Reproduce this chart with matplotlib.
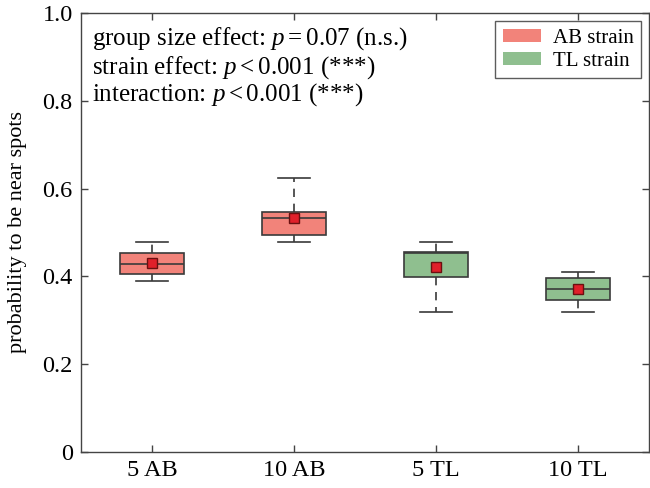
import matplotlib
matplotlib.use("Agg")
import matplotlib.pyplot as plt
from matplotlib.patches import Patch

plt.rcParams['font.family'] = ['Liberation Serif', 'DejaVu Serif']
plt.rcParams['mathtext.fontset'] = 'custom'
plt.rcParams['mathtext.rm'] = 'Liberation Serif'
plt.rcParams['mathtext.it'] = 'Liberation Serif:italic'

categories = ['5 AB', '10 AB', '5 TL', '10 TL']
strain = ['AB', 'AB', 'TL', 'TL']
whislo = [0.389, 0.479, 0.320, 0.320]
q1 = [0.406, 0.494, 0.399, 0.347]
med = [0.428, 0.532, 0.453, 0.371]
q3 = [0.454, 0.547, 0.456, 0.396]
whishi = [0.479, 0.625, 0.479, 0.411]
means = [0.431, 0.532, 0.422, 0.371]

annot = [r"group size effect: $p = 0.07$ (n.s.)",
         r"strain effect: $p < 0.001$ (***)",
         r"interaction: $p < 0.001$ (***)"]
legend_labels = ['AB strain', 'TL strain']
colors = {'AB': '#f2837a', 'TL': '#8fbf8f'}
edge = '#3a3a3a'

fig = plt.figure(figsize=(6.5, 4.88), dpi=100)
ax = fig.add_axes([0.1246, 0.0738, 0.874, 0.8996])

stats = []
for i in range(4):
    stats.append(dict(whislo=whislo[i], q1=q1[i], med=med[i], q3=q3[i],
                      whishi=whishi[i], mean=means[i], label=categories[i],
                      fliers=[]))

positions = [1, 2, 3, 4]
bp = ax.bxp(stats, positions=positions, widths=0.45, patch_artist=True,
            showmeans=True, showfliers=False, capwidths=0.23,
            boxprops=dict(edgecolor=edge, linewidth=1.2),
            medianprops=dict(color=edge, linewidth=1.2),
            whiskerprops=dict(color=edge, linewidth=1.2, linestyle=(0, (5, 4))),
            capprops=dict(color=edge, linewidth=1.2),
            meanprops=dict(marker='s', markersize=6.5, markerfacecolor='#e0202a',
                           markeredgecolor='#6a1010', markeredgewidth=1.0))
for patch, s in zip(bp['boxes'], strain):
    patch.set_facecolor(colors[s])

ax.set_xlim(0.5, 4.5)
ax.set_ylim(0, 1.0)
ax.set_xticks(positions)
ax.set_xticklabels(categories)
ax.set_yticks([0, 0.2, 0.4, 0.6, 0.8, 1.0])
ax.set_yticklabels(['0', '0.2', '0.4', '0.6', '0.8', '1.0'])
ax.tick_params(direction='in', top=True, right=True, length=5, width=1,
               color='#444444', labelsize=17.5, pad=6)
for sp in ax.spines.values():
    sp.set_color('#444444')
    sp.set_linewidth(1.0)
ax.set_ylabel('probability to be near spots', fontsize=16)
ax.yaxis.set_label_coords(-0.095, 0.5)

ys = [0.927, 0.863, 0.800]
for t, y in zip(annot, ys):
    ax.text(0.019, y, t, transform=ax.transAxes, fontsize=18, va='baseline', ha='left')

handles = [Patch(facecolor=colors['AB'], edgecolor='none'),
           Patch(facecolor=colors['TL'], edgecolor='none')]
leg = ax.legend(handles, legend_labels, loc='upper right', fontsize=15,
                frameon=True, fancybox=False, edgecolor='#333333',
                handlelength=1.85, handleheight=0.6, borderaxespad=0.4,
                labelspacing=0.2, handletextpad=0.55, borderpad=0.35)
leg.get_frame().set_linewidth(1.0)

fig.savefig('out.png', dpi=100)
